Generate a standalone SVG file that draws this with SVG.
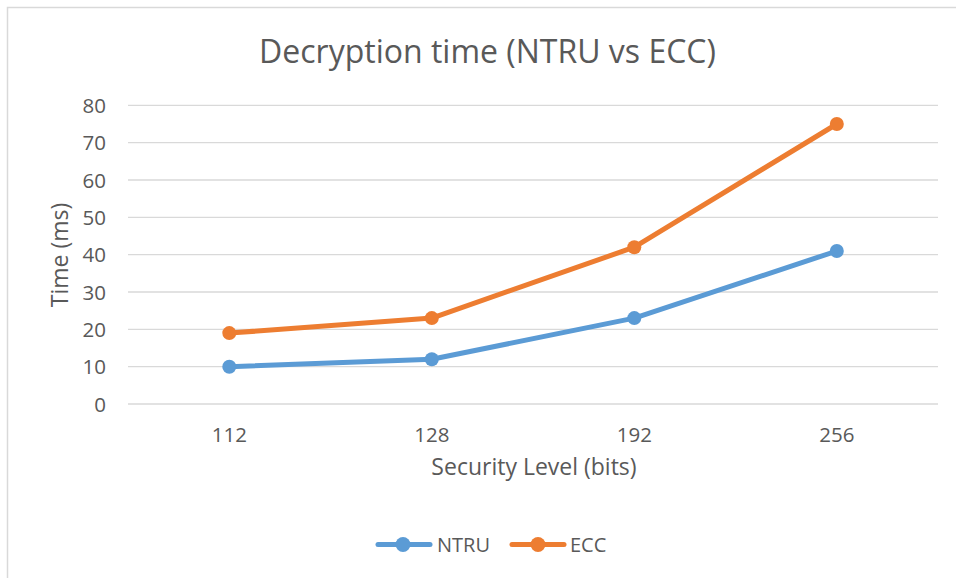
<svg xmlns="http://www.w3.org/2000/svg" width="956" height="578" viewBox="0 0 956 578">
  <defs>
    <style>
      text { font-family: "Open Sans", "Liberation Sans", sans-serif; fill: #595959; }
      .grid { stroke: #D9D9D9; stroke-width: 1.3; }
      .tick { font-size: 20.5px; }
      .ytick { text-anchor: end; }
      .xtick { text-anchor: middle; }
      .axis-title { font-size: 23px; text-anchor: middle; }
      .title { font-size: 32px; text-anchor: middle; }
      .legend { font-size: 20px; }
      .ntru { stroke: #5B9BD5; fill: none; stroke-width: 5; stroke-linecap: round; stroke-linejoin: round; }
      .ecc { stroke: #ED7D31; fill: none; stroke-width: 5; stroke-linecap: round; stroke-linejoin: round; }
      .ntru-dot { fill: #5B9BD5; }
      .ecc-dot { fill: #ED7D31; }
    </style>
  </defs>

  <!-- chart background and frame -->
  <rect x="0" y="0" width="956" height="578" fill="#FFFFFF"/>
  <rect x="7.5" y="7.5" width="970" height="600" fill="#FFFFFF" stroke="#D9D9D9" stroke-width="1.5"/>

  <text class="title" x="487.5" y="63">Decryption time (NTRU vs ECC)</text>

  <!-- horizontal gridlines, 0..80 step 10 -->
  <g id="gridlines">
    <line class="grid" x1="128" y1="404" x2="938" y2="404"/>
    <line class="grid" x1="128" y1="366.7" x2="938" y2="366.7"/>
    <line class="grid" x1="128" y1="329.3" x2="938" y2="329.3"/>
    <line class="grid" x1="128" y1="292" x2="938" y2="292"/>
    <line class="grid" x1="128" y1="254.7" x2="938" y2="254.7"/>
    <line class="grid" x1="128" y1="217.3" x2="938" y2="217.3"/>
    <line class="grid" x1="128" y1="180" x2="938" y2="180"/>
    <line class="grid" x1="128" y1="142.7" x2="938" y2="142.7"/>
    <line class="grid" x1="128" y1="105.3" x2="938" y2="105.3"/>
  </g>

  <g id="y-axis">
    <text class="tick ytick" x="106" y="411.5">0</text>
    <text class="tick ytick" x="106" y="374.2">10</text>
    <text class="tick ytick" x="106" y="336.8">20</text>
    <text class="tick ytick" x="106" y="299.5">30</text>
    <text class="tick ytick" x="106" y="262.2">40</text>
    <text class="tick ytick" x="106" y="224.8">50</text>
    <text class="tick ytick" x="106" y="187.5">60</text>
    <text class="tick ytick" x="106" y="150.2">70</text>
    <text class="tick ytick" x="106" y="112.8">80</text>
    <text class="axis-title" transform="translate(68,255) rotate(-90)">Time (ms)</text>
  </g>

  <g id="x-axis">
    <text class="tick xtick" x="229.3" y="442">112</text>
    <text class="tick xtick" x="431.8" y="442">128</text>
    <text class="tick xtick" x="634.3" y="442">192</text>
    <text class="tick xtick" x="836.8" y="442">256</text>
    <text class="axis-title" x="534" y="475">Security Level (bits)</text>
  </g>

  <!-- data series -->
  <g id="connectors">
    <polyline class="ntru" points="229.3,366.7 431.8,359.2 634.3,318.1 836.8,251"/>
    <polyline class="ecc" points="229.3,333.1 431.8,318.1 634.3,247.2 836.8,124"/>
  </g>

  <g id="series-ntru">
    <circle class="ntru-dot" cx="229.3" cy="366.7" r="7"/>
    <circle class="ntru-dot" cx="431.8" cy="359.2" r="7"/>
    <circle class="ntru-dot" cx="634.3" cy="318.1" r="7"/>
    <circle class="ntru-dot" cx="836.8" cy="251" r="7"/>
  </g>
  <g id="series-ecc">
    <circle class="ecc-dot" cx="229.3" cy="333.1" r="7"/>
    <circle class="ecc-dot" cx="431.8" cy="318.1" r="7"/>
    <circle class="ecc-dot" cx="634.3" cy="247.2" r="7"/>
    <circle class="ecc-dot" cx="836.8" cy="124" r="7"/>
  </g>

  <g id="legend">
    <line class="ntru" x1="378" y1="544.5" x2="430" y2="544.5"/>
    <circle class="ntru-dot" cx="403" cy="544.5" r="7.5"/>
    <text class="legend" x="437" y="552">NTRU</text>
    <line class="ecc" x1="512" y1="544.5" x2="564" y2="544.5"/>
    <circle class="ecc-dot" cx="538" cy="544.5" r="7.5"/>
    <text class="legend" x="570" y="552">ECC</text>
  </g>
</svg>
